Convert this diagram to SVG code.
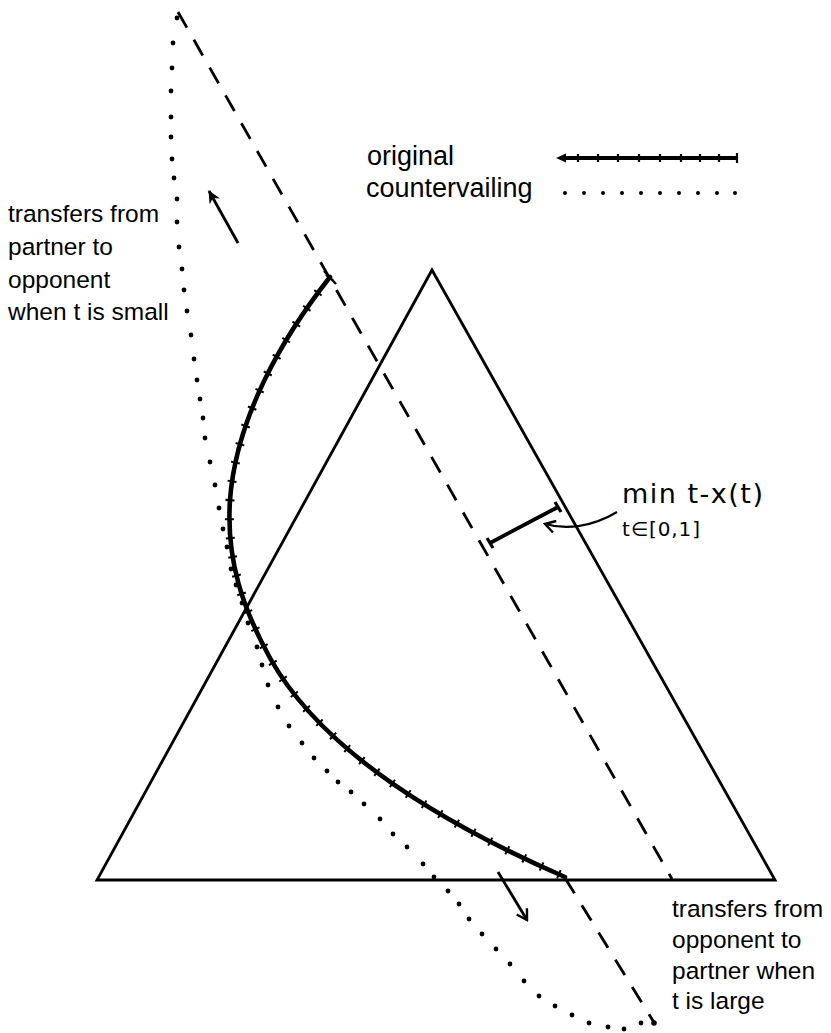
<svg xmlns="http://www.w3.org/2000/svg" width="831" height="1033" viewBox="0 0 831 1033">
<style>
.ln{fill:none;stroke:#000;stroke-width:2.8}
.dash{fill:none;stroke:#000;stroke-width:2.8;stroke-dasharray:18 14}
.curve{fill:none;stroke:#000;stroke-width:4.6;stroke-linecap:round;stroke-linejoin:round}
.ticks{fill:none;stroke:#000;stroke-width:9;stroke-dasharray:2 17}
.lbl{font-family:"Liberation Sans",Arial,sans-serif;font-size:24.5px;fill:#000}
.leg{font-family:"Liberation Sans",Arial,sans-serif;font-size:27px;fill:#000}
.math{font-family:"DejaVu Sans",sans-serif;fill:#000}
.dot{fill:#000}
</style>
<defs>
<marker id="head" markerWidth="14" markerHeight="14" refX="12" refY="7" orient="auto" markerUnits="userSpaceOnUse">
<path d="M0,1 L13,7 L0,13 L4,7 Z" fill="#000"/>
</marker>
<marker id="open" markerWidth="14" markerHeight="14" refX="12" refY="7" orient="auto" markerUnits="userSpaceOnUse">
<path d="M2,1 L12,7 L2,13" fill="none" stroke="#000" stroke-width="2.4"/>
</marker>
</defs>
<g id="triangle">
<polygon class="ln" points="432,270 775,880 97,880" stroke-linejoin="miter"/>
</g>
<g id="connectors">
<line class="dash" x1="178" y1="12" x2="672" y2="879"/>
<line class="dash" x1="565" y1="878" x2="655" y2="1024"/>
<line x1="238" y1="243" x2="209" y2="191" stroke="#000" stroke-width="2.8" marker-end="url(#head)"/>
<line x1="498" y1="872" x2="527" y2="920" stroke="#000" stroke-width="2.8" marker-end="url(#open)"/>
<path d="M617,512 C592,527 566,530 545,524" fill="none" stroke="#000" stroke-width="2.2" marker-end="url(#open)"/>
</g>
<g id="original-curve">
<path class="curve" d="M330,277 C282,338 236,418 230,500 C226,560 243,609 270,658 C310,730 400,805 565,877"/>
<path class="ticks" d="M330,277 C282,338 236,418 230,500 C226,560 243,609 270,658 C310,730 400,805 565,877"/>
<line x1="324" y1="271" x2="336" y2="284" stroke="#000" stroke-width="2.5"/>
</g>
<g id="countervailing-curve">
<circle class="dot" cx="177" cy="18" r="2.4"/><circle class="dot" cx="173" cy="43" r="2.4"/><circle class="dot" cx="172" cy="68" r="2.4"/><circle class="dot" cx="171" cy="91" r="2.4"/><circle class="dot" cx="171" cy="117" r="2.4"/><circle class="dot" cx="171" cy="137" r="2.4"/><circle class="dot" cx="172" cy="159" r="2.4"/><circle class="dot" cx="174" cy="178" r="2.4"/><circle class="dot" cx="177" cy="199" r="2.4"/><circle class="dot" cx="177" cy="222" r="2.4"/><circle class="dot" cx="179" cy="247" r="2.4"/><circle class="dot" cx="182" cy="269" r="2.4"/><circle class="dot" cx="184" cy="290" r="2.4"/><circle class="dot" cx="187" cy="311" r="2.4"/><circle class="dot" cx="191" cy="335" r="2.4"/><circle class="dot" cx="194" cy="359" r="2.4"/><circle class="dot" cx="197" cy="380" r="2.4"/><circle class="dot" cx="200" cy="399" r="2.4"/><circle class="dot" cx="203" cy="418" r="2.4"/><circle class="dot" cx="205" cy="438" r="2.4"/><circle class="dot" cx="210" cy="462" r="2.4"/><circle class="dot" cx="215" cy="485" r="2.4"/><circle class="dot" cx="219" cy="508" r="2.4"/><circle class="dot" cx="223" cy="529" r="2.4"/><circle class="dot" cx="227" cy="547" r="2.4"/><circle class="dot" cx="231" cy="569" r="2.4"/><circle class="dot" cx="236" cy="585" r="2.4"/><circle class="dot" cx="242" cy="603" r="2.4"/><circle class="dot" cx="248" cy="623" r="2.4"/><circle class="dot" cx="257" cy="647" r="2.4"/><circle class="dot" cx="262" cy="665" r="2.4"/><circle class="dot" cx="268" cy="685" r="2.4"/><circle class="dot" cx="278" cy="707" r="2.4"/><circle class="dot" cx="289" cy="726" r="2.4"/><circle class="dot" cx="302" cy="743" r="2.4"/><circle class="dot" cx="314" cy="758" r="2.4"/><circle class="dot" cx="327" cy="771" r="2.4"/><circle class="dot" cx="338" cy="782" r="2.4"/><circle class="dot" cx="351" cy="792" r="2.4"/><circle class="dot" cx="364" cy="804" r="2.4"/><circle class="dot" cx="380" cy="819" r="2.4"/><circle class="dot" cx="393" cy="834" r="2.4"/><circle class="dot" cx="407" cy="847" r="2.4"/><circle class="dot" cx="423" cy="864" r="2.4"/><circle class="dot" cx="434" cy="877" r="2.4"/><circle class="dot" cx="448" cy="891" r="2.4"/><circle class="dot" cx="459" cy="904" r="2.4"/><circle class="dot" cx="469" cy="919" r="2.4"/><circle class="dot" cx="482" cy="934" r="2.4"/><circle class="dot" cx="496" cy="949" r="2.4"/><circle class="dot" cx="510" cy="964" r="2.4"/><circle class="dot" cx="524" cy="981" r="2.4"/><circle class="dot" cx="539" cy="996" r="2.4"/><circle class="dot" cx="555" cy="1006" r="2.4"/><circle class="dot" cx="572" cy="1015" r="2.4"/><circle class="dot" cx="589" cy="1023" r="2.4"/><circle class="dot" cx="608" cy="1027" r="2.4"/><circle class="dot" cx="624" cy="1029" r="2.4"/><circle class="dot" cx="641" cy="1023" r="2.4"/><circle class="dot" cx="654" cy="1023" r="2.8"/>
</g>
<g id="min-distance">
<line x1="490" y1="543" x2="558" y2="507" stroke="#000" stroke-width="3.8"/>
<line x1="487" y1="538" x2="493" y2="548" stroke="#000" stroke-width="3.2"/>
<line x1="555" y1="502" x2="561" y2="512" stroke="#000" stroke-width="3.2"/>
<text class="math" x="622" y="503" font-size="27" textLength="141" lengthAdjust="spacing">min t-x(t)</text>
<text class="math" x="622" y="536" font-size="20" textLength="78" lengthAdjust="spacing">t∈[0,1]</text>
</g>
<g id="legend">
<text class="leg" x="367" y="165">original</text>
<text class="leg" x="366" y="197">countervailing</text>
<line x1="560" y1="158" x2="737" y2="158" stroke="#000" stroke-width="3.8"/>
<path d="M556,158 L566,153.5 L566,162.5 Z" fill="#000"/>
<path d="M578,154v8M598,154v8M618,154v8M639,154v8M660,154v8M681,154v8M700,154v8M719,154v8M737,153v10" stroke="#000" stroke-width="2.2"/>
<g class="dot"><circle cx="565" cy="193" r="2"/><circle cx="584" cy="193" r="2"/><circle cx="603" cy="193" r="2"/><circle cx="622" cy="193" r="2"/><circle cx="641" cy="193" r="2"/><circle cx="660" cy="193" r="2"/><circle cx="679" cy="193" r="2"/><circle cx="698" cy="193" r="2"/><circle cx="717" cy="193" r="2"/><circle cx="735" cy="193" r="2"/></g>
</g>
<g id="label-small">
<text class="lbl" x="8" y="222">transfers from</text>
<text class="lbl" x="8" y="255">partner to</text>
<text class="lbl" x="8" y="288">opponent</text>
<text class="lbl" x="8" y="320">when t is small</text>
</g>
<g id="label-large">
<text class="lbl" x="672" y="917">transfers from</text>
<text class="lbl" x="672" y="948">opponent to</text>
<text class="lbl" x="672" y="979">partner when</text>
<text class="lbl" x="672" y="1009">t is large</text>
</g>
</svg>
